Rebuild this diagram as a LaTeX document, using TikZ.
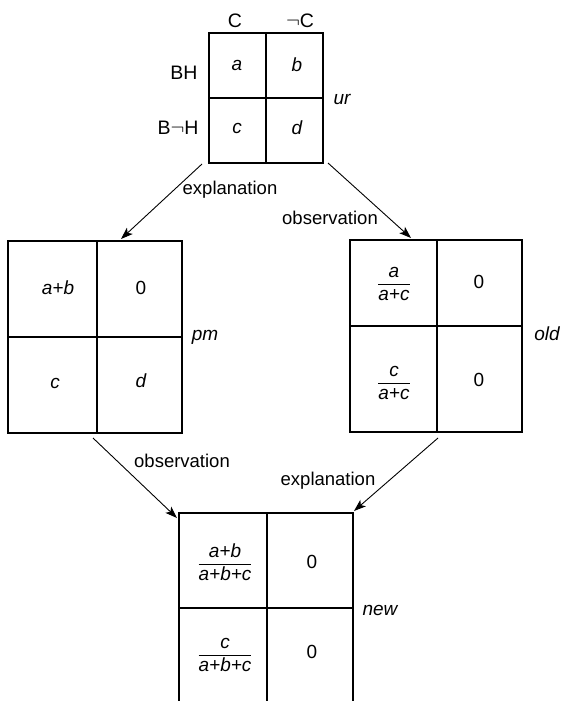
\documentclass[tikz,border=0pt]{standalone}
\usepackage{fontspec}
\setmainfont{Liberation Sans}
\usetikzlibrary{arrows.meta}
\newcommand\fr[2]{$\displaystyle\frac{\mbox{\itshape #1}}{\mbox{\itshape #2}}$}
\begin{document}
\begin{tikzpicture}[x=1pt,y=-1pt,
  every node/.style={font=\fontsize{19}{22}\selectfont, inner sep=0pt},
  hdr/.style={font=\fontsize{19.5}{22}\selectfont},
  grid/.style={draw, line width=1.1pt, minimum width=#1},
  div/.style={line width=1.1pt},
  arr/.style={line width=0.9pt, -{Stealth[length=12pt,width=8.5pt,inset=3pt]}},
  lbl/.style={anchor=center, font=\fontsize{18.5}{22}\selectfont}]
\useasboundingbox (0,0) rectangle (563,701);
\clip (0,0) rectangle (563,701);
\fill[white] (0,0) rectangle (563,701);

% ur box
\node[grid=114pt, minimum height=130pt] (ur) at (266,98) {};
\draw[div] (ur.north) -- (ur.south);
\draw[div] (ur.west) -- (ur.east);
\node (ua) at (237,65) {\itshape a};
\node (ub) at (297,65) {\itshape b};
\node (uc) at (237,128) {\itshape c};
\node (ud) at (297,128) {\itshape d};
\node[hdr] (lC) at (235,21) {C};
\node[hdr] (lnC) at (300,21) {\(\neg\)C};
\node[hdr] (lBH) at (184,73) {BH};
\node[hdr] (lBnH) at (178,128) {B\(\neg\)H};
\node (lur) at (342,99) {\itshape ur};

% pm box
\node[grid=174pt, minimum height=192pt] (pm) at (95,337) {};
\coordinate (pmt) at (97,241); \coordinate (pmb) at (97,433);
\draw[div] (pmt) -- (pmb);
\draw[div] (pm.west) -- (pm.east);
\node (pa) at (58,288) {\itshape a+b};
\node (pb) at (141,288) {0};
\node (pc) at (55,383) {\itshape c};
\node (pd) at (141,381) {\itshape d};
\node (lpm) at (205,337) {\itshape pm};

% old box
\node[grid=172pt, minimum height=192pt] (old) at (436,336) {};
\coordinate (olt) at (437,240); \coordinate (olb) at (437,432);
\coordinate (oll) at (350,326); \coordinate (olr) at (522,326);
\draw[div] (olt) -- (olb);
\draw[div] (oll) -- (olr);
\node (oa) at (394,284) {\fr{a}{a+c}};
\node (ob) at (479,282) {0};
\node (oc) at (394,383) {\fr{c}{a+c}};
\node (od) at (479,380) {0};
\node (lold) at (547,334) {\itshape old};

% new box
\node[grid=174pt, minimum height=192pt] (new) at (266,609) {};
\coordinate (nwt) at (267,513); \coordinate (nwb) at (267,705);
\coordinate (nwl) at (179,608); \coordinate (nwr) at (353,608);
\draw[div] (nwt) -- (nwb);
\draw[div] (nwl) -- (nwr);
\node (na) at (225,562) {\fr{a+b}{a+b+c}};
\node (nb) at (312,562) {0};
\node (nc) at (225,655) {\fr{c}{a+b+c}};
\node (nd) at (312,652) {0};
\node (lnew) at (380,610) {\itshape new};

% arrows
\coordinate (e1s) at (202,164); \coordinate (e1t) at (121,239);
\coordinate (e2s) at (328,163); \coordinate (e2t) at (411,238);
\coordinate (e3s) at (93,438);  \coordinate (e3t) at (177,518);
\coordinate (e4s) at (438,438); \coordinate (e4t) at (354,511);
\draw[arr] (e1s) -- (e1t);
\draw[arr] (e2s) -- (e2t);
\draw[arr] (e3s) -- (e3t);
\draw[arr] (e4s) -- (e4t);
\node[lbl] (t1) at (230,190) {explanation};
\node[lbl] (t2) at (330,218) {observation};
\node[lbl] (t3) at (182,461) {observation};
\node[lbl] (t4) at (328,481) {explanation};
\end{tikzpicture}
\end{document}
